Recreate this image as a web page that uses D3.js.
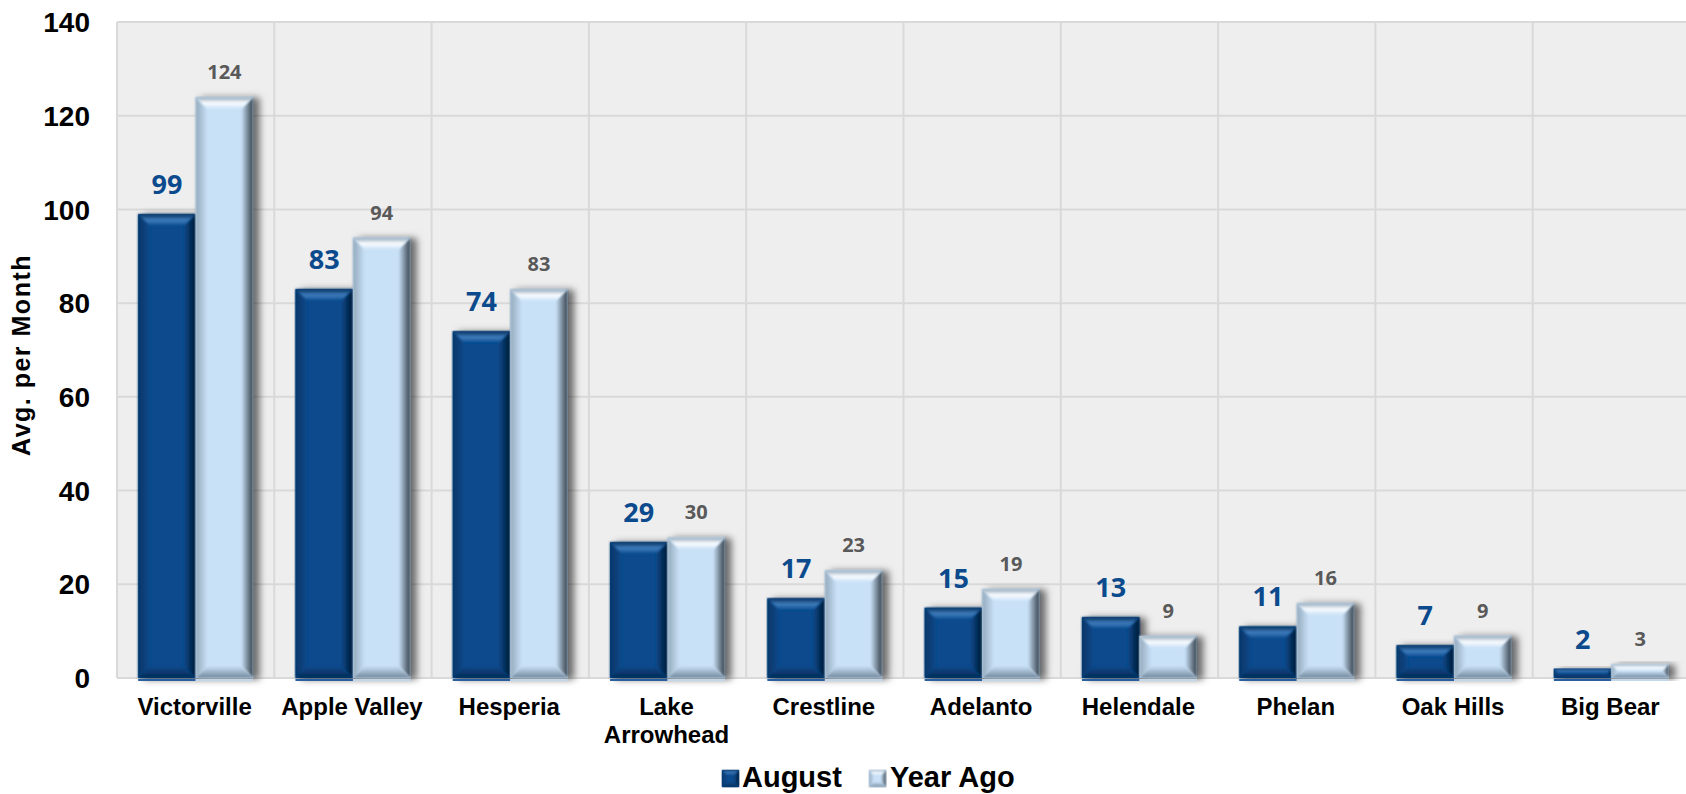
<!DOCTYPE html>
<html>
<head>
<meta charset="utf-8">
<script src="https://cdn.jsdelivr.net/npm/d3@7"></script>
<style>
  html, body { margin: 0; padding: 0; background: #ffffff; }
  svg { display: block; }
</style>
</head>
<body>
<svg id="chart" width="1686" height="794"></svg>
<script>
// Monthly averages by community
const categories = ["Victorville", "Apple Valley", "Hesperia", "Lake Arrowhead", "Crestline",
                    "Adelanto", "Helendale", "Phelan", "Oak Hills", "Big Bear"];
const categoryLines = [["Victorville"], ["Apple Valley"], ["Hesperia"], ["Lake", "Arrowhead"], ["Crestline"],
                       ["Adelanto"], ["Helendale"], ["Phelan"], ["Oak Hills"], ["Big Bear"]];
const seriesNames = ["August", "Year Ago"];
const augustValues = [99, 83, 74, 29, 17, 15, 13, 11, 7, 2];
const yearAgoValues = [124, 94, 83, 30, 23, 19, 9, 16, 9, 3];
const yTicks = [0, 20, 40, 60, 80, 100, 120, 140];
const yTitle = "Avg. per Month";

const svg = d3.select("#chart");
const plot = { left: 117, right: 1690, top: 22, bottom: 678 };

const x0 = d3.scaleBand().domain(categories).range([plot.left, plot.right]).paddingInner(0).paddingOuter(0);
const x1 = d3.scaleBand().domain(seriesNames).range([0, x0.bandwidth()]).paddingInner(0).paddingOuter(0.368);
const y = d3.scaleLinear().domain([0, 140]).range([plot.bottom, plot.top]);

// Styles for each series: base fill plus bevel shading
const styles = {
  "August": {
    base: "#0a4a8d",
    top: ["#082f5c", "#3f7dbd", "#0a4a8d"],
    bottom: ["#0a4a8d", "#052b55"],
    left: ["#063566", "#0a4a8d"],
    right: ["#0a4a8d", "#021a33"],
    label: "#0b4a8c", labelSize: 27, labelGap: 20
  },
  "Year Ago": {
    base: "#c9e1f7",
    top: ["#8ea4b8", "#fbfdff", "#c9e1f7"],
    bottom: ["#c9e1f7", "#71879b"],
    left: ["#93a9bc", "#c9e1f7"],
    right: ["#c9e1f7", "#323d48"],
    label: "#595959", labelSize: 20, labelGap: 18
  }
};

const defs = svg.append("defs");
function grad(id, stops, vertical) {
  const g = defs.append("linearGradient").attr("id", id)
    .attr("x1", 0).attr("y1", 0)
    .attr("x2", vertical ? 0 : 1).attr("y2", vertical ? 1 : 0);
  stops.forEach((c, i) => g.append("stop")
    .attr("offset", stops.length === 1 ? 0 : i / (stops.length - 1)).attr("stop-color", c));
}
seriesNames.forEach((s, i) => {
  const st = styles[s];
  grad(`top${i}`, st.top, true);
  grad(`bot${i}`, st.bottom, true);
  grad(`lft${i}`, st.left, false);
  grad(`rgt${i}`, st.right, false);
});
const shadow = defs.append("filter").attr("id", "shadow")
  .attr("x", "-20%").attr("y", "-20%").attr("width", "160%").attr("height", "140%");
shadow.append("feDropShadow").attr("dx", 6).attr("dy", 1).attr("stdDeviation", 3.5)
  .attr("flood-color", "#000").attr("flood-opacity", 0.55);
const bevelBlur = defs.append("filter").attr("id", "soft");
bevelBlur.append("feGaussianBlur").attr("stdDeviation", 0.8);

// Plot background and grid
svg.append("rect").attr("x", plot.left).attr("y", plot.top)
  .attr("width", plot.right - plot.left).attr("height", plot.bottom - plot.top)
  .attr("fill", "#eeeeee");

svg.append("g").selectAll("line").data(yTicks).join("line")
  .attr("x1", plot.left).attr("x2", plot.right)
  .attr("y1", d => y(d)).attr("y2", d => y(d))
  .attr("stroke", "#d9d9d9").attr("stroke-width", 2);

const vLines = categories.map(c => x0(c)).concat([plot.right]);
svg.append("g").selectAll("line").data(vLines).join("line")
  .attr("x1", d => d).attr("x2", d => d)
  .attr("y1", plot.top).attr("y2", plot.bottom)
  .attr("stroke", "#d9d9d9").attr("stroke-width", 2);

// Beveled bar drawing
function drawBevelBar(g, x, yTop, w, h, si, bevel) {
  const st = styles[seriesNames[si]];
  const b = Math.min(bevel, h / 2, w / 2);
  const grp = g.append("g");
  grp.append("rect").attr("x", x).attr("y", yTop).attr("width", w).attr("height", h)
    .attr("fill", st.base);
  const y2 = yTop + h, x2 = x + w;
  const polys = [
    { id: `lft${si}`, pts: [[x, yTop], [x + b, yTop + b], [x + b, y2 - b], [x, y2]] },
    { id: `rgt${si}`, pts: [[x2, yTop], [x2 - b, yTop + b], [x2 - b, y2 - b], [x2, y2]] },
    { id: `bot${si}`, pts: [[x, y2], [x + b, y2 - b], [x2 - b, y2 - b], [x2, y2]] },
    { id: `top${si}`, pts: [[x, yTop], [x2, yTop], [x2 - b, yTop + b], [x + b, yTop + b]] }
  ];
  polys.forEach(p => grp.append("polygon")
    .attr("points", p.pts.map(q => q.join(",")).join(" "))
    .attr("fill", `url(#${p.id})`).attr("filter", "url(#soft)"));
  return grp;
}

const barsG = svg.append("g");
const seriesValues = [augustValues, yearAgoValues];
categories.forEach((c, ci) => {
  seriesNames.forEach((s, si) => {
    const v = seriesValues[si][ci];
    const bx = x0(c) + x1(s);
    const w = x1.bandwidth();
    const top = y(v);
    const h = y(0) - top;
    const holder = barsG.append("g").attr("filter", "url(#shadow)");
    drawBevelBar(holder, bx, top, w, h, si, 12);
    // thin base line under each bar
    barsG.append("line").attr("x1", bx).attr("x2", bx + w)
      .attr("y1", y(0) + 2).attr("y2", y(0) + 2)
      .attr("stroke", si === 0 ? "#2a5f9e" : "#c4d7ea").attr("stroke-width", 2);
  });
});

// Value labels
const labelsG = svg.append("g");
categories.forEach((c, ci) => {
  seriesNames.forEach((s, si) => {
    const st = styles[s];
    const v = seriesValues[si][ci];
    labelsG.append("text")
      .attr("x", x0(c) + x1(s) + x1.bandwidth() / 2)
      .attr("y", y(v) - st.labelGap)
      .attr("text-anchor", "middle")
      .attr("font-family", "'Open Sans', 'Noto Sans', sans-serif")
      .attr("font-weight", 700)
      .attr("font-size", st.labelSize)
      .attr("fill", st.label)
      .text(v);
  });
});

// Y axis tick labels
svg.append("g").selectAll("text").data(yTicks).join("text")
  .attr("x", 90).attr("y", d => y(d))
  .attr("dy", "0.36em")
  .attr("text-anchor", "end")
  .attr("font-family", "'Liberation Sans', Arial, sans-serif")
  .attr("font-weight", 700).attr("font-size", 28).attr("fill", "#000")
  .text(d => d);

// Y axis title
svg.append("text")
  .attr("transform", `translate(30,${(y(0) + y(140)) / 2 + 5}) rotate(-90)`)
  .attr("text-anchor", "middle")
  .attr("font-family", "'Liberation Sans', Arial, sans-serif")
  .attr("font-weight", 700).attr("font-size", 25).attr("letter-spacing", 1.5).attr("fill", "#000")
  .text(yTitle);

// Category labels
const catG = svg.append("g");
categories.forEach((c, ci) => {
  const t = catG.append("text")
    .attr("x", x0(c) + x0.bandwidth() / 2 - 1)
    .attr("y", 715)
    .attr("text-anchor", "middle")
    .attr("font-family", "'Liberation Sans', Arial, sans-serif")
    .attr("font-weight", 700).attr("font-size", 24).attr("fill", "#000");
  categoryLines[ci].forEach((line, li) => {
    t.append("tspan").attr("x", x0(c) + x0.bandwidth() / 2 - 1)
      .attr("dy", li === 0 ? 0 : 28).text(line);
  });
});

// Legend
const legend = svg.append("g");
const legendItems = [
  { name: seriesNames[0], mx: 722, tx: 742 },
  { name: seriesNames[1], mx: 869, tx: 890 }
];
legendItems.forEach((it, i) => {
  drawBevelBar(legend, it.mx, 770, 17, 17, i, 5);
  legend.append("text")
    .attr("x", it.tx).attr("y", 787)
    .attr("font-family", "'Liberation Sans', Arial, sans-serif")
    .attr("font-weight", 700).attr("font-size", 29).attr("fill", "#000")
    .text(it.name);
});
</script>
</body>
</html>
